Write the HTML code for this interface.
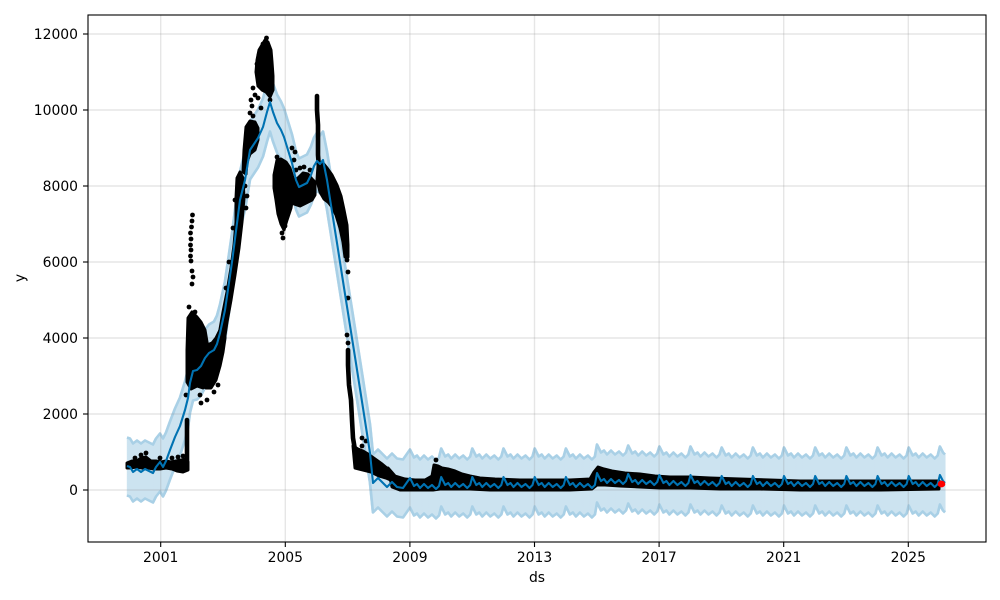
<!DOCTYPE html>
<html><head><meta charset="utf-8"><style>
html,body{margin:0;padding:0;background:#fff;}
svg{display:block;}
text{font-family:"DejaVu Sans","Liberation Sans",sans-serif;font-size:13.9px;fill:#000;}
</style></head><body>
<svg width="1000" height="600" viewBox="0 0 1000 600" xmlns="http://www.w3.org/2000/svg">
<defs>
<path id="ln" d="M127,466 L130,467 133,472 137,469 141,472 145,469 149,471 153,473 156,467 160,462 163,467 166,461 170,450 175,437 180,426 185,410 188,398 190,383 193,371 197,370 201,366 205,358 209,353 214,350 217,344 220,333 225,310 232,262 240,200 245,180 250,150 254,144 258,138 263,127 267,112 270,102 273,112 277,123 281,130 284,137 288,150 292,163 296,180 299,187 303,185 307,183 311,175 314,166 317,161 320,164 323,160 327,180 337,243 345,294 355,357 363,408 370,453 373,483 378,478 383,483 387,487 392,482 397,487 403,488
410,478 414,486 417,484 420,488 424,484 428,488 432,485 436,489 439,486
441.2,477 445.2,485 448.2,483 451.2,487 455.2,483 459.2,487 463.2,484 467.2,488 470.2,485
472.3,477 476.3,485 479.3,483 482.3,487 486.3,483 490.3,487 494.3,484 498.3,488 501.3,485
503.5,477 507.5,485 510.5,483 513.5,487 517.5,483 521.5,487 525.5,484 529.5,488 532.5,485
534.7,477 538.7,485 541.7,483 544.7,487 548.7,483 552.7,487 556.7,484 560.7,488 563.7,485
565.9,477 569.9,485 572.9,483 575.9,487 579.9,483 583.9,487 587.9,484 591.9,488 594.9,485
597,473 601,481 604,479 607,483 611,479 615,483 619,480 623,484 626,481
628.2,474 632.2,482 635.2,480 638.2,484 642.2,480 646.2,484 650.2,481 654.2,485 657.2,482
659.4,475 663.4,483 666.4,481 669.4,485 673.4,481 677.4,485 681.4,482 685.4,486 688.4,483
690.5,475 694.5,483 697.5,481 700.5,485 704.5,481 708.5,485 712.5,482 716.5,486 719.5,483
721.7,476 725.7,484 728.7,482 731.7,486 735.7,482 739.7,486 743.7,483 747.7,487 750.7,484
752.9,476 756.9,484 759.9,482 762.9,486 766.9,482 770.9,486 774.9,483 778.9,487 781.9,484
784,476 788,484 791,482 794,486 798,482 802,486 806,483 810,487 813,484
815.2,476 819.2,484 822.2,482 825.2,486 829.2,482 833.2,486 837.2,483 841.2,487 844.2,484
846.4,476 850.4,484 853.4,482 856.4,486 860.4,482 864.4,486 868.4,483 872.4,487 875.4,484
877.6,476 881.6,484 884.6,482 887.6,486 891.6,482 895.6,486 899.6,483 903.6,487 906.6,484
908.7,476 912.7,484 915.7,482 918.7,486 922.7,482 926.7,486 930.7,483 934.7,487 937.7,484
939.9,475 943,481 945,483"/>
</defs>

<!-- uncertainty band -->
<g fill="none" stroke="#cce3f0" stroke-width="3" stroke-linejoin="round" stroke-linecap="butt">
<use href="#ln" transform="translate(0,-28)"/><use href="#ln" transform="translate(0,-26)"/><use href="#ln" transform="translate(0,-24)"/><use href="#ln" transform="translate(0,-22)"/><use href="#ln" transform="translate(0,-20)"/><use href="#ln" transform="translate(0,-18)"/><use href="#ln" transform="translate(0,-16)"/><use href="#ln" transform="translate(0,-14)"/><use href="#ln" transform="translate(0,-12)"/><use href="#ln" transform="translate(0,-10)"/><use href="#ln" transform="translate(0,-8)"/><use href="#ln" transform="translate(0,-6)"/><use href="#ln" transform="translate(0,-4)"/><use href="#ln" transform="translate(0,-2)"/><use href="#ln"/><use href="#ln" transform="translate(0,2)"/><use href="#ln" transform="translate(0,4)"/><use href="#ln" transform="translate(0,6)"/><use href="#ln" transform="translate(0,8)"/><use href="#ln" transform="translate(0,10)"/><use href="#ln" transform="translate(0,12)"/><use href="#ln" transform="translate(0,14)"/><use href="#ln" transform="translate(0,16)"/><use href="#ln" transform="translate(0,18)"/><use href="#ln" transform="translate(0,20)"/><use href="#ln" transform="translate(0,22)"/><use href="#ln" transform="translate(0,24)"/><use href="#ln" transform="translate(0,26)"/><use href="#ln" transform="translate(0,28)"/><use href="#ln" transform="translate(0,29)"/>
</g>
<g fill="none" stroke="#a9d0e6" stroke-width="2.6" stroke-linejoin="round">
<use href="#ln" transform="translate(0,-28.5)"/><use href="#ln" transform="translate(0,29.5)"/>
</g>

<!-- grid -->
<g stroke="rgba(128,128,128,0.2)" stroke-width="1.4">
<line x1="160.7" y1="15" x2="160.7" y2="542"/><line x1="285.3" y1="15" x2="285.3" y2="542"/><line x1="409.9" y1="15" x2="409.9" y2="542"/><line x1="534.5" y1="15" x2="534.5" y2="542"/><line x1="659.1" y1="15" x2="659.1" y2="542"/><line x1="783.7" y1="15" x2="783.7" y2="542"/><line x1="908.3" y1="15" x2="908.3" y2="542"/>
<line x1="88" y1="34" x2="986" y2="34"/><line x1="88" y1="110" x2="986" y2="110"/><line x1="88" y1="186" x2="986" y2="186"/><line x1="88" y1="262" x2="986" y2="262"/><line x1="88" y1="338" x2="986" y2="338"/><line x1="88" y1="414" x2="986" y2="414"/><line x1="88" y1="490" x2="986" y2="490"/>
</g>

<!-- observed data -->
<g fill="#000" stroke="#000" stroke-width="3" stroke-linejoin="round">
<polygon points="127,463 132,461 137,461 141,458 146,457 151,461 156,461 161,462 166,461 171,462 176,461 181,460 186,459 188,462 188,470 183,472 177,471 172,469 166,468 160,469 154,469 148,468 142,468 136,467 131,468 127,468"/>
<polygon points="188,318 192,312 197,317 201,322 205,330 207,342 209,355 210,370 208,385 203,388 197,386 191,389 187,382 187,350"/>
<polygon points="207,345 212,343 216,338 220,330 223,325 225,338 223,352 220,366 216,380 211,388 206,388"/>
<polygon points="219,335 223,312 227,292 231,268 234,245 236,222 236,198 237,178 240,172 243,178 244,198 242,222 239,248 235,275 231,300 227,322 224,342"/>
<polygon points="243,172 244,150 246,127 250,121 255,122 258,128 258,140 255,150 250,154 247,162 246,174"/>
<polygon points="257,60 259,50 262,45 265,40 268,42 271,50 272,62 273,76 273,90 270,97 266,92 262,90 258,86 256,72"/>
<polygon points="274,175 277,160 281,159 286,162 290,168 293,178 293,195 291,208 287,220 284,230 281,224 278,214 276,200 274,188"/>
<polygon points="292,182 298,178 303,173 308,174 312,179 315,182 315,195 312,200 306,203 300,206 294,204"/>
<polygon points="318,166 322,162 327,168 332,175 337,185 341,196 344,210 347,225 348,245 348,257 345,257 343,242 340,228 336,215 332,207 328,202 324,199 320,192 317,180"/>
<polygon points="353,446 358,449 363,451 368,454 375,459 382,464 388,469 393,474 393,481 386,478 379,476 371,472 363,470 355,468"/>
<polygon points="388,468 395,476 405,479 415,480 425,480 432,476 434,465 438,466 442,468 448,469 455,471 462,474 470,476 480,478 495,479 520,480 545,480 570,480 590,479 594,472 598,467 604,469 612,471 625,473 640,474 655,476 670,477 690,477 710,478 740,479 770,480 800,481 840,481 880,481 939,481 939,489 880,490 840,490 800,490 760,489 720,489 690,488 660,488 640,487 620,486 605,485 597,485 592,489 570,490 540,490 510,490 490,490 470,489 455,489 440,489 433,490 415,490 400,490 392,487"/>
</g>
<g fill="none" stroke="#000" stroke-width="4.6" stroke-linecap="round" stroke-linejoin="round">
<polyline points="187,465 187,440 187,420"/>
<polyline points="317,96 317,110 318,125 318,140 318,155 319,168"/>
<polyline points="348,350 348,365 349,385 351,400 352,420 353,438 355,450"/>
</g>
<g fill="#000">
<circle cx="146" cy="453" r="2.4"/><circle cx="141" cy="455" r="2.4"/><circle cx="160" cy="458" r="2.4"/><circle cx="135" cy="458" r="2.4"/><circle cx="172" cy="458" r="2.4"/><circle cx="178" cy="457" r="2.4"/><circle cx="183" cy="456" r="2.4"/>
<circle cx="192.5" cy="215" r="2.4"/><circle cx="192" cy="221" r="2.4"/><circle cx="191.5" cy="227" r="2.4"/><circle cx="190.5" cy="233" r="2.4"/><circle cx="191" cy="239" r="2.4"/><circle cx="190.5" cy="245" r="2.4"/><circle cx="191" cy="250" r="2.4"/><circle cx="190.5" cy="256" r="2.4"/><circle cx="191" cy="261" r="2.4"/><circle cx="192" cy="271" r="2.4"/><circle cx="193" cy="277" r="2.4"/><circle cx="192" cy="284" r="2.4"/>
<circle cx="189" cy="307" r="2.4"/><circle cx="195" cy="312" r="2.4"/><circle cx="200" cy="395" r="2.4"/><circle cx="207" cy="400" r="2.4"/><circle cx="201" cy="403" r="2.4"/><circle cx="214" cy="392" r="2.4"/><circle cx="218" cy="385" r="2.4"/><circle cx="186" cy="395" r="2.4"/>
<circle cx="233" cy="228" r="2.4"/><circle cx="229" cy="262" r="2.4"/><circle cx="226" cy="288" r="2.4"/><circle cx="235" cy="200" r="2.4"/><circle cx="245" cy="186" r="2.4"/><circle cx="247" cy="196" r="2.4"/><circle cx="246" cy="208" r="2.4"/>
<circle cx="251" cy="100" r="2.4"/><circle cx="252" cy="106" r="2.4"/><circle cx="250" cy="113" r="2.4"/><circle cx="253" cy="116" r="2.4"/>
<circle cx="266.5" cy="38" r="2.4"/><circle cx="263" cy="44" r="2.4"/><circle cx="259" cy="55" r="2.4"/><circle cx="257" cy="64" r="2.4"/><circle cx="270" cy="100" r="2.4"/><circle cx="255" cy="95" r="2.4"/><circle cx="258" cy="98" r="2.4"/><circle cx="261" cy="108" r="2.4"/><circle cx="253" cy="88" r="2.4"/>
<circle cx="283" cy="238" r="2.4"/><circle cx="282" cy="233" r="2.4"/><circle cx="285" cy="226" r="2.4"/><circle cx="277" cy="157" r="2.4"/><circle cx="278" cy="166" r="2.4"/><circle cx="292" cy="148" r="2.4"/><circle cx="295" cy="152" r="2.4"/><circle cx="294" cy="160" r="2.4"/><circle cx="296" cy="170" r="2.4"/>
<circle cx="300" cy="168" r="2.4"/><circle cx="304" cy="167" r="2.4"/><circle cx="310" cy="170" r="2.4"/>
<circle cx="347" cy="260" r="2.4"/><circle cx="348" cy="272" r="2.4"/><circle cx="348" cy="298" r="2.4"/><circle cx="347" cy="335" r="2.4"/><circle cx="348" cy="343" r="2.4"/>
<circle cx="362" cy="438" r="2.4"/><circle cx="362" cy="446" r="2.4"/><circle cx="366" cy="441" r="2.4"/>
<circle cx="436" cy="460" r="2.4"/>
</g>

<!-- forecast line -->
<use href="#ln" fill="none" stroke="#0072B2" stroke-width="2.1" stroke-linejoin="round"/>

<!-- red point -->
<ellipse cx="941.5" cy="484" rx="3.8" ry="3.4" fill="#ff0000"/>

<!-- frame -->
<rect x="88" y="15" width="898" height="527" fill="none" stroke="#000" stroke-width="1.1"/>

<!-- ticks -->
<g stroke="#000" stroke-width="1.1">
<line x1="160.7" y1="542" x2="160.7" y2="547"/><line x1="285.3" y1="542" x2="285.3" y2="547"/><line x1="409.9" y1="542" x2="409.9" y2="547"/><line x1="534.5" y1="542" x2="534.5" y2="547"/><line x1="659.1" y1="542" x2="659.1" y2="547"/><line x1="783.7" y1="542" x2="783.7" y2="547"/><line x1="908.3" y1="542" x2="908.3" y2="547"/>
<line x1="83" y1="34" x2="88" y2="34"/><line x1="83" y1="110" x2="88" y2="110"/><line x1="83" y1="186" x2="88" y2="186"/><line x1="83" y1="262" x2="88" y2="262"/><line x1="83" y1="338" x2="88" y2="338"/><line x1="83" y1="414" x2="88" y2="414"/><line x1="83" y1="490" x2="88" y2="490"/>
</g>

<g text-anchor="middle">
<text x="160.7" y="562">2001</text><text x="285.3" y="562">2005</text><text x="409.9" y="562">2009</text><text x="534.5" y="562">2013</text><text x="659.1" y="562">2017</text><text x="783.7" y="562">2021</text><text x="908.3" y="562">2025</text>
</g>
<g text-anchor="end">
<text x="78" y="39">12000</text><text x="78" y="115">10000</text><text x="78" y="191">8000</text><text x="78" y="267">6000</text><text x="78" y="343">4000</text><text x="78" y="419">2000</text><text x="78" y="495">0</text>
</g>
<text x="537" y="582" text-anchor="middle">ds</text>
<text transform="translate(24.5,278) rotate(-90)" text-anchor="middle">y</text>
</svg>
</body></html>
